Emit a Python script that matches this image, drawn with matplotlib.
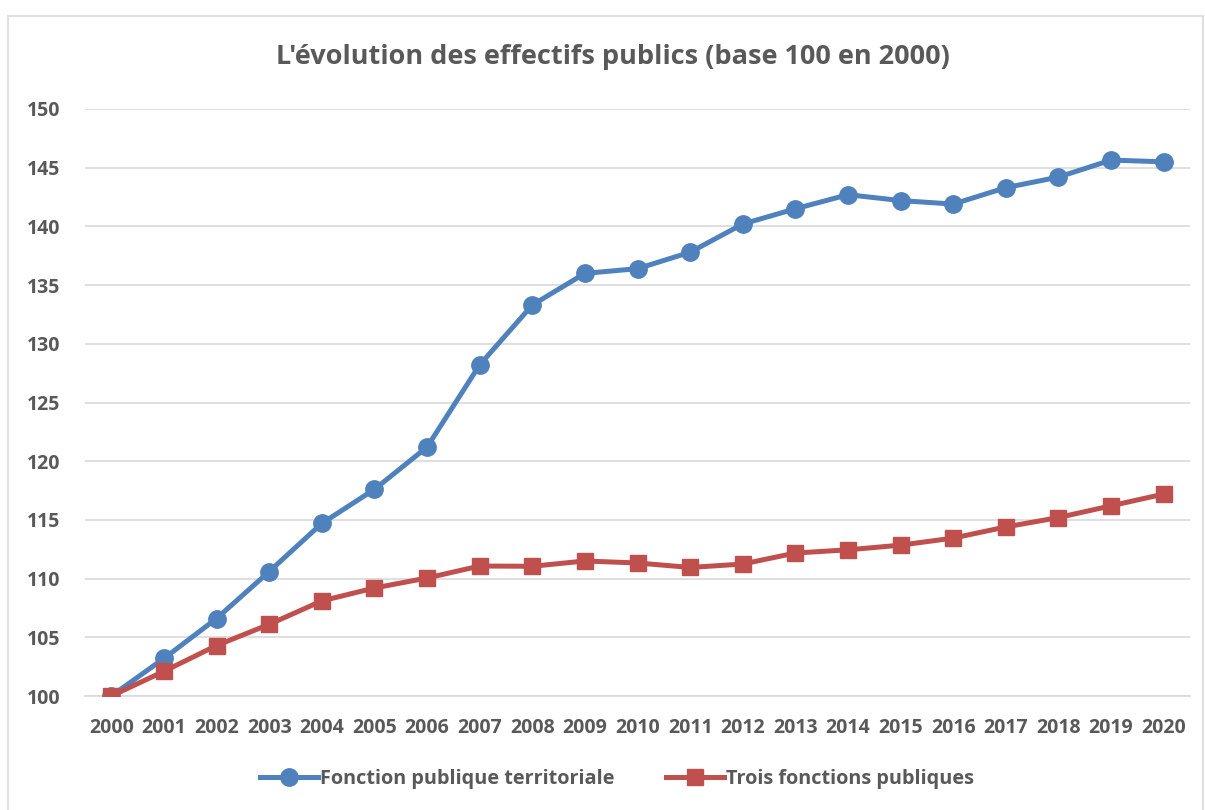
import matplotlib.pyplot as plt
from matplotlib.patches import Rectangle

years = [str(y) for y in range(2000, 2021)]
fpt = [100, 103.2, 106.6, 110.6, 114.7, 117.6, 121.2, 128.2, 133.3, 136.0, 136.4,
       137.8, 140.2, 141.5, 142.7, 142.2, 141.9, 143.3, 144.2, 145.65, 145.5]
trois = [100, 102.1, 104.3, 106.1, 108.1, 109.2, 110.05, 111.07, 111.05, 111.5, 111.33,
         110.95, 111.24, 112.18, 112.45, 112.85, 113.45, 114.4, 115.2, 116.2, 117.2]

plt.rcParams['font.family'] = ['Open Sans', 'DejaVu Sans']
grey = '#595959'

fig = plt.figure(figsize=(12.05, 8.10), dpi=100)
ax = fig.add_axes([85 / 1205, 1 - 696 / 810, 1105 / 1205, 587 / 810])

# chart frame
fig.patches.append(Rectangle((8 / 1205, -0.01), 1195 / 1205, 1 - 16 / 810 + 0.01,
                             transform=fig.transFigure, fill=False,
                             edgecolor='#d9d9d9', linewidth=1.2))

x = range(len(years))
ax.plot(x, fpt, color='#4F81BD', lw=3.6, marker='o', ms=12.5,
        label='Fonction publique territoriale', zorder=3)
ax.plot(x, trois, color='#C0504D', lw=3.6, marker='s', ms=11,
        label='Trois fonctions publiques', zorder=3)

ax.set_xlim(-0.5, len(years) - 0.5)
ax.set_ylim(100, 150)
ax.set_yticks(range(100, 151, 5))
ax.set_xticks(list(x))
ax.set_xticklabels(years)
ax.grid(axis='y', color='#d9d9d9', lw=1.2)
ax.set_axisbelow(True)
for s in ax.spines.values():
    s.set_visible(False)
ax.spines['bottom'].set_visible(True)
ax.spines['bottom'].set_color('#d9d9d9')
ax.spines['bottom'].set_linewidth(1.2)
ax.tick_params(length=0, labelsize=14, labelcolor=grey, pad=16)
ax.tick_params(axis='y', pad=42)
for lab in ax.get_xticklabels() + ax.get_yticklabels():
    lab.set_fontweight('bold')
for lab in ax.get_yticklabels():
    lab.set_horizontalalignment('left')

fig.text(613 / 1205, 1 - 57 / 810, "L'évolution des effectifs publics (base 100 en 2000)",
         ha='center', va='center', fontsize=19.5, fontweight='bold', color=grey)

leg = fig.legend(loc='center', bbox_to_anchor=(617 / 1205, 1 - 779 / 810), ncol=2,
                 frameon=False, fontsize=14.3, handlelength=2.9, columnspacing=2.6,
                 handletextpad=0.1)
for t in leg.get_texts():
    t.set_color(grey)
    t.set_fontweight('bold')

fig.savefig('out.png', dpi=100)
